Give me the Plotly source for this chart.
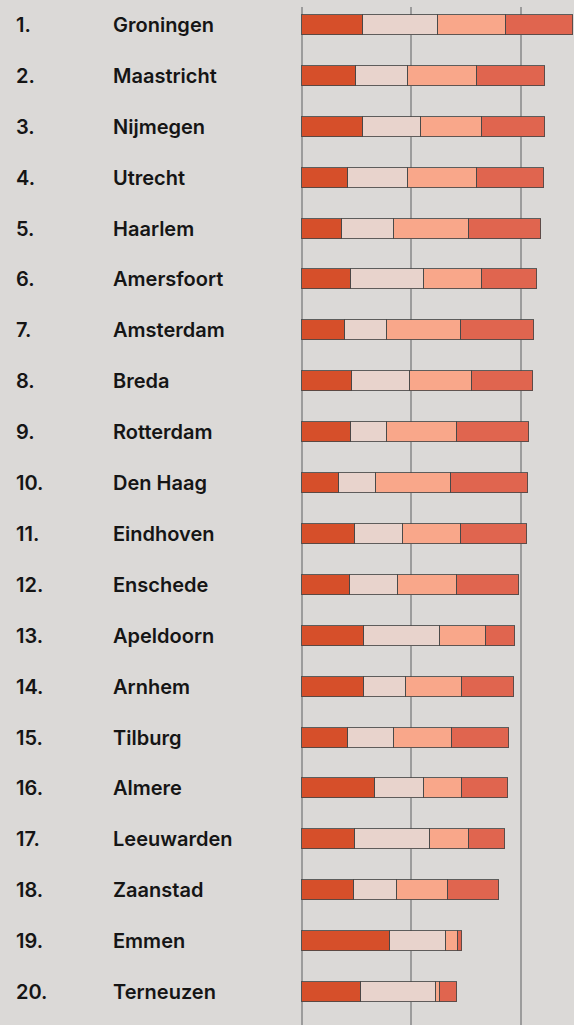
import plotly.graph_objects as go

ranks = [f"{i}." for i in range(1, 21)]
cities = ["Groningen", "Maastricht", "Nijmegen", "Utrecht", "Haarlem", "Amersfoort",
          "Amsterdam", "Breda", "Rotterdam", "Den Haag", "Eindhoven", "Enschede",
          "Apeldoorn", "Arnhem", "Tilburg", "Almere", "Leeuwarden", "Zaanstad",
          "Emmen", "Terneuzen"]
s1 = [5.59, 4.98, 5.59, 4.19, 3.71, 4.50, 3.98, 4.59, 4.47, 3.37, 4.89, 4.38, 5.68, 5.68, 4.19, 6.72, 4.89, 4.80, 8.02, 5.41]
s2 = [6.87, 4.74, 5.32, 5.53, 4.71, 6.63, 3.83, 5.32, 3.34, 3.43, 4.32, 4.44, 6.96, 3.83, 4.23, 4.40, 6.84, 3.92, 5.11, 6.81]
s3 = [6.20, 6.29, 5.53, 6.29, 6.81, 5.32, 6.75, 5.62, 6.32, 6.84, 5.35, 5.32, 4.19, 5.14, 5.32, 3.53, 3.50, 4.62, 1.09, 0.42]
s4 = [6.11, 6.14, 5.71, 6.05, 6.63, 5.02, 6.60, 5.53, 6.63, 7.02, 5.99, 5.71, 2.61, 4.68, 5.20, 4.19, 3.31, 4.68, 0.40, 1.49]
series = [s1, s2, s3, s4]
colors = ["#d64f2a", "#e8d3cc", "#f9a78a", "#e0654f"]
grid_ticks = [0, 10, 20]

W, H = 574, 1025
fig = go.Figure()
for vals, col in zip(series, colors):
    fig.add_trace(go.Bar(
        y=cities, x=vals, orientation="h", width=0.393,
        marker=dict(color=col, line=dict(color="rgba(70,70,70,0.85)", width=1)),
        showlegend=False, hoverinfo="skip"))

font = dict(family="Inter, 'Noto Sans', sans-serif", size=20, color="#151515", weight=600)
ann = []
for r, c in zip(ranks, cities):
    ann.append(dict(x=14 / W, y=c, xref="paper", yref="y", text=r,
                    showarrow=False, xanchor="left", yanchor="middle", font=font))
    ann.append(dict(x=111 / W, y=c, xref="paper", yref="y", text=c,
                    showarrow=False, xanchor="left", yanchor="middle", font=font))

px_per_unit = 10.967
x0_px = 301.67
fig.update_layout(
    width=W, height=H,
    margin=dict(l=0, r=0, t=7, b=0, pad=0),
    paper_bgcolor="#dbd9d7", plot_bgcolor="#dbd9d7",
    barmode="stack", bargap=0,
    annotations=ann,
    xaxis=dict(range=[-x0_px / px_per_unit, (W - x0_px) / px_per_unit],
               tickvals=grid_ticks, showticklabels=False, showgrid=True,
               gridcolor="#9c9c9c", gridwidth=1.5, zeroline=False, showline=False),
    yaxis=dict(range=[19.648, -0.354], showticklabels=False, showgrid=False,
               zeroline=False, showline=False),
)
fig.write_html("out.html", config={"displayModeBar": False},
               post_script="document.body.style.margin='0';document.body.style.background='#dbd9d7';")
